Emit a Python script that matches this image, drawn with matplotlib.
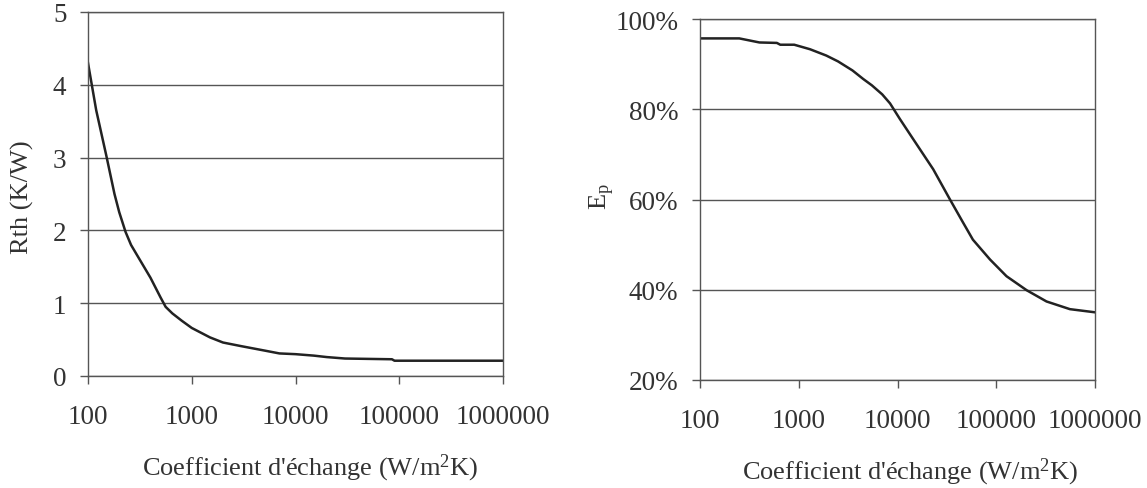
import matplotlib
matplotlib.use("Agg")
import matplotlib.pyplot as plt
from matplotlib.ticker import FixedLocator, FuncFormatter, NullLocator

plt.rcParams['font.family'] = ['Liberation Serif', 'DejaVu Serif']
plt.rcParams['mathtext.fontset'] = 'custom'
plt.rcParams['mathtext.rm'] = 'Liberation Serif'
plt.rcParams['mathtext.it'] = 'Liberation Serif:italic'

# Thermal resistance vs. heat-transfer coefficient
h_rth = [100, 120, 150, 180, 200, 230, 260, 300, 400, 500, 560, 650, 800,
         1000, 1500, 2000, 3000, 5000, 7000, 10000, 15000, 20000, 30000,
         50000, 85000, 90000, 200000, 500000, 1000000]
rth = [4.30, 3.65, 3.03, 2.50, 2.25, 1.98, 1.80, 1.65, 1.35, 1.08, 0.95,
       0.86, 0.76, 0.66, 0.53, 0.46, 0.41, 0.35, 0.31, 0.30, 0.28, 0.26,
       0.24, 0.235, 0.23, 0.21, 0.21, 0.21, 0.21]

# Efficiency Ep vs. heat-transfer coefficient (fraction)
h_ep = [100, 250, 400, 600, 650, 900, 1300, 1900, 2500, 3500, 4500, 5500,
        7000, 8400, 10600, 14500, 23000, 34000, 45000, 58000, 86500, 127000,
        203000, 323000, 557000, 1000000]
ep = [0.957, 0.957, 0.948, 0.947, 0.943, 0.943, 0.933, 0.919, 0.906, 0.886,
      0.867, 0.853, 0.833, 0.813, 0.778, 0.733, 0.667, 0.600, 0.553, 0.511,
      0.467, 0.430, 0.399, 0.374, 0.357, 0.350]

x_ticks = [100, 1000, 10000, 100000, 1000000]
rth_ticks = [0, 1, 2, 3, 4, 5]
ep_ticks = [0.2, 0.4, 0.6, 0.8, 1.0]

W, H = 1147, 489
fig = plt.figure(figsize=(W / 100, H / 100), dpi=100)

TEXT = '#333333'
GRID = '#555555'
LINE = '#222222'
FS = 19.5
FS_LAB = 19


def style(ax, yticks):
    ax.set_xscale('log')
    ax.set_xlim(100, 1000000)
    ax.xaxis.set_major_locator(FixedLocator(x_ticks))
    ax.xaxis.set_minor_locator(NullLocator())
    ax.xaxis.set_major_formatter(FuncFormatter(lambda v, p: f"{int(round(v))}"))
    ax.set_yticks(yticks)
    for s in ax.spines.values():
        s.set_color(GRID)
        s.set_linewidth(1.0)
    ax.grid(axis='y', color=GRID, linewidth=1.0)
    ax.set_axisbelow(True)
    ax.tick_params(axis='x', direction='out', length=5.5, width=1.0,
                   color=GRID, labelsize=FS, labelcolor=TEXT, pad=15)
    ax.tick_params(axis='y', direction='out', length=5.5, width=1.0,
                   color=GRID, labelsize=FS, labelcolor=TEXT, pad=10)


# Left panel: Rth
ax1 = fig.add_axes([88 / W, 1 - 377 / H, 415 / W, 364 / H])
ax1.plot(h_rth, rth, color=LINE, linewidth=1.8)
ax1.set_ylim(0, 5)
style(ax1, rth_ticks)

# Right panel: Ep
ax2 = fig.add_axes([700 / W, 1 - 381 / H, 395 / W, 361 / H])
ax2.plot(h_ep, ep, color=LINE, linewidth=1.8)
ax2.set_ylim(0.2, 1.0)
style(ax2, ep_ticks)
ax2.yaxis.set_major_formatter(FuncFormatter(lambda v, p: f"{int(round(v * 100))}%"))

# Axis titles
xlab = r"Coefficient d'échange (W/m$^{2}$K)"
fig.text(310 / W, 1 - 468 / H, xlab, ha='center', va='center', fontsize=FS_LAB, color=TEXT)
fig.text(910 / W, 1 - 472 / H, xlab, ha='center', va='center', fontsize=FS_LAB, color=TEXT)
fig.text(22 / W, 1 - 197 / H, "Rth (K/W)", ha='center', va='center',
         rotation=90, fontsize=FS_LAB, color=TEXT)
fig.text(602 / W, 1 - 197 / H, r"$\mathrm{E_p}$", ha='center', va='center',
         rotation=90, fontsize=FS_LAB, color=TEXT)

fig.savefig("out.png", dpi=100)
